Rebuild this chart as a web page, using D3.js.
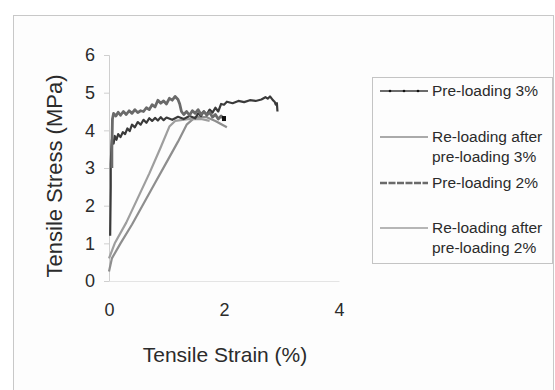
<!DOCTYPE html>
<html>
<head>
<meta charset="utf-8">
<script src="https://cdn.jsdelivr.net/npm/d3@7"></script>
<style>
  body { margin: 0; background: #fff; }
  text { font-family: "Liberation Sans", Arial, sans-serif; fill: #2b2b2b; }
</style>
</head>
<body>
<div id="chart"></div>
<script>
// tensile strain (%) / stress (MPa)
var seriesNames = ["Pre-loading 3%", "Re-loading after pre-loading 3%", "Pre-loading 2%", "Re-loading after pre-loading 2%"];

var preload3 = [[0.02,1.2],[0.03,2.5],[0.03,3.1],[0.04,3.5],[0.05,3.75],[0.08,3.65],[0.1,3.85],[0.13,3.75],
  [0.16,3.9],[0.2,3.82],[0.24,3.95],[0.28,3.9],[0.32,4.05],[0.36,3.98],[0.4,4.15],[0.45,4.08],[0.5,4.22],[0.55,4.15],
  [0.6,4.28],[0.65,4.2],[0.7,4.32],[0.75,4.25],[0.8,4.33],[0.85,4.26],[0.9,4.35],[0.95,4.27],[1.0,4.34],[1.1,4.28],
  [1.2,4.36],[1.3,4.3],[1.4,4.38],[1.5,4.32],[1.55,4.45],[1.6,4.38],[1.65,4.5],[1.7,4.42],[1.75,4.55],[1.8,4.47],
  [1.85,4.6],[1.9,4.5],[1.95,4.7],[2.0,4.68],[2.05,4.76],[2.15,4.72],[2.25,4.78],[2.35,4.75],[2.45,4.8],[2.55,4.78],
  [2.65,4.82],[2.72,4.88],[2.76,4.84],[2.8,4.9],[2.85,4.8],[2.88,4.76],[2.9,4.68],[2.92,4.72],[2.93,4.5]];

var reload3 = [[0.0,0.25],[0.05,0.6],[0.2,1.0],[0.4,1.5],[0.6,2.05],[0.8,2.6],[1.0,3.15],[1.2,3.7],[1.35,4.15],
  [1.5,4.35],[1.7,4.35],[1.85,4.25],[2.05,4.08]];

var preload2 = [[0.05,3.0],[0.05,3.5],[0.06,4.3],[0.08,4.45],[0.12,4.38],[0.16,4.48],[0.2,4.4],[0.25,4.5],
  [0.3,4.42],[0.35,4.52],[0.4,4.45],[0.45,4.55],[0.5,4.47],[0.55,4.52],[0.6,4.5],[0.65,4.6],[0.7,4.55],[0.75,4.68],
  [0.8,4.62],[0.85,4.8],[0.9,4.72],[0.95,4.78],[1.0,4.7],[1.05,4.85],[1.1,4.8],[1.15,4.9],[1.2,4.82],[1.23,4.7],
  [1.26,4.5],[1.3,4.42],[1.35,4.5],[1.4,4.4],[1.45,4.52],[1.5,4.45],[1.55,4.55],[1.6,4.42],[1.65,4.5],[1.7,4.4],
  [1.75,4.48],[1.8,4.35],[1.85,4.42],[1.9,4.3],[1.95,4.38],[2.0,4.3]];

var reload2 = [[0.0,0.6],[0.1,1.0],[0.3,1.55],[0.5,2.2],[0.7,2.85],[0.9,3.55],[1.05,4.1],[1.15,4.25],[1.4,4.3],
  [1.6,4.3],[1.75,4.25]];

var xTicks = [0, 2, 4];
var yTicks = [0, 1, 2, 3, 4, 5, 6];

var W = 555, H = 390;
var svg = d3.select("#chart").append("svg").attr("width", W).attr("height", H);

// chart frame
svg.append("rect").attr("x", 13.5).attr("y", 15.5).attr("width", 540).attr("height", 390)
  .attr("fill", "#fdfdfd").attr("stroke", "#c8c8c8");

var x = d3.scaleLinear().domain([0, 4]).range([109, 339]);
var y = d3.scaleLinear().domain([0, 6]).range([281, 55]);

// axes
var yAxis = svg.append("g").attr("transform", "translate(109,0)")
  .call(d3.axisLeft(y).tickValues(yTicks).tickFormat(d3.format("d")).tickSize(5).tickPadding(9));
var xAxis = svg.append("g").attr("transform", "translate(0,281)")
  .call(d3.axisBottom(x).tickValues(xTicks).tickFormat(d3.format("d")).tickSize(0).tickPadding(22));
[yAxis, xAxis].forEach(function(g) {
  g.select(".domain").attr("stroke", "#cfcfcf");
  g.selectAll(".tick line").attr("stroke", "#cfcfcf");
  g.selectAll(".tick text").style("font-size", "18px").attr("fill", "#2b2b2b");
});
xAxis.select(".domain").attr("stroke", "#e4e4e4");

svg.append("text").attr("x", 225).attr("y", 362).attr("text-anchor", "middle")
  .style("font-size", "21px").text("Tensile Strain (%)");
svg.append("text").attr("transform", "translate(62,176) rotate(-90)").attr("text-anchor", "middle")
  .style("font-size", "22px").text("Tensile Stress (MPa)");

var line = d3.line().x(function(d) { return x(d[0]); }).y(function(d) { return y(d[1]); });

var styles = [
  { data: preload3, color: "#3a3a3a", w: 2.2 },
  { data: reload3, color: "#8e8e8e", w: 2.2 },
  { data: preload2, color: "#6a6a6a", w: 2.8 },
  { data: reload2, color: "#9e9e9e", w: 2.2 }
];

// draw reloading first so pre-loading sits on top
[1, 3, 0, 2].forEach(function(i) {
  svg.append("path").datum(styles[i].data).attr("d", line)
    .attr("fill", "none").attr("stroke", styles[i].color)
    .attr("stroke-width", styles[i].w).attr("stroke-linejoin", "round");
});
var last = preload2[preload2.length - 1];
svg.append("rect").attr("x", x(last[0]) - 2).attr("y", y(last[1]) - 3)
  .attr("width", 4).attr("height", 5).attr("fill", "#111");

// legend
var leg = svg.append("g");
leg.append("rect").attr("x", 372.5).attr("y", 77.5).attr("width", 180).attr("height", 186)
  .attr("fill", "none").attr("stroke", "#c4c4c4");
var legRows = [
  { lines: ["Pre-loading 3%"], y: 91 },
  { lines: ["Re-loading after", "pre-loading 3%"], y: 137 },
  { lines: ["Pre-loading 2%"], y: 183 },
  { lines: ["Re-loading after", "pre-loading 2%"], y: 228 }
];
legRows.forEach(function(r, i) {
  leg.append("line").attr("x1", 380).attr("x2", 428).attr("y1", r.y).attr("y2", r.y)
    .attr("stroke", styles[i].color).attr("stroke-width", i == 2 ? 2.5 : 1.6)
    .attr("stroke-dasharray", i == 2 ? "7,1.5" : null);
  if (i == 0) {
    leg.selectAll(null).data([390, 404, 418]).enter().append("circle")
      .attr("cx", function(d) { return d; }).attr("cy", r.y).attr("r", 1.3).attr("fill", "#111");
  }
  r.lines.forEach(function(t, j) {
    leg.append("text").attr("x", 432).attr("y", r.y + j * 20).attr("dy", "0.35em")
      .style("font-size", "15.5px").text(t);
  });
});
</script>
</body>
</html>
